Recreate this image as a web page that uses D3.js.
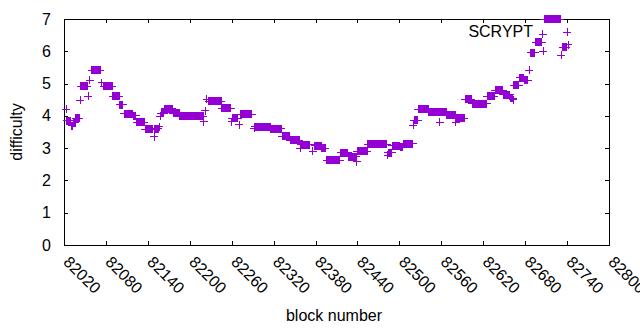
<!DOCTYPE html>
<html>
<head>
<meta charset="utf-8">
<script src="https://cdn.jsdelivr.net/npm/d3@7"></script>
<style>
  body { margin: 0; background: #fff; }
  text { font-family: "Liberation Sans", Arial, sans-serif; }
</style>
</head>
<body>
<svg id="chart" width="640" height="330"></svg>
<script>
// runs of blocks with the same difficulty (first block, last block, value)
const runStart = [82023, 82024, 82031, 82033, 82037, 82043, 82044, 82055, 82057, 82060,
  82074, 82077, 82090, 82100, 82106, 82119, 82124, 82136, 82149, 82150,
  82156, 82158, 82159, 82164, 82176, 82186, 82220, 82222, 82224, 82227,
  82246, 82260, 82261, 82271, 82273, 82292, 82293, 82304, 82316, 82332,
  82344, 82358, 82359, 82376, 82379, 82389, 82396, 82416, 82427, 82439,
  82440, 82455, 82483, 82484, 82490, 82501, 82506, 82520, 82521, 82527,
  82542, 82558, 82559, 82568, 82581, 82582, 82594, 82604, 82626, 82637,
  82649, 82659, 82663, 82664, 82672, 82679, 82686, 82688, 82695, 82705,
  82706, 82707, 82732, 82734, 82742];
const runEnd = [82023, 82030, 82032, 82036, 82042, 82043, 82053, 82055, 82057, 82072,
  82074, 82089, 82099, 82104, 82118, 82123, 82135, 82147, 82149, 82155,
  82156, 82158, 82163, 82175, 82185, 82219, 82220, 82222, 82224, 82245,
  82259, 82260, 82269, 82271, 82289, 82292, 82303, 82315, 82331, 82343,
  82357, 82358, 82372, 82376, 82388, 82394, 82415, 82426, 82438, 82439,
  82454, 82482, 82483, 82489, 82500, 82505, 82519, 82520, 82526, 82541,
  82557, 82558, 82567, 82580, 82581, 82593, 82603, 82625, 82636, 82648,
  82658, 82662, 82663, 82671, 82678, 82684, 82686, 82694, 82704, 82705,
  82706, 82730, 82732, 82739, 82742];
const difficulty = [4.20, 3.85, 3.70, 3.78, 3.92, 4.49, 4.92, 4.60, 5.11, 5.41,
  5.03, 4.91, 4.60, 4.34, 4.07, 4.00, 3.80, 3.59, 3.35, 3.60,
  3.66, 3.99, 4.08, 4.22, 4.08, 3.99, 3.82, 4.16, 4.52, 4.45,
  4.23, 3.82, 3.92, 3.72, 4.05, 3.61, 3.67, 3.64, 3.60, 3.37,
  3.25, 3.00, 3.11, 2.90, 3.08, 3.00, 2.62, 2.85, 2.73, 2.58,
  2.91, 3.12, 2.78, 2.85, 3.08, 3.03, 3.14, 3.71, 3.87, 4.20,
  4.11, 3.80, 4.11, 4.04, 3.80, 3.93, 4.52, 4.37, 4.61, 4.80,
  4.66, 4.55, 4.50, 4.95, 5.18, 5.10, 5.42, 5.95, 6.28, 6.53,
  6.00, 7.00, 5.87, 6.12, 6.21];

const xTicks = [82020, 82080, 82140, 82200, 82260, 82320, 82380, 82440, 82500,
  82560, 82620, 82680, 82740, 82800];
const yTicks = [0, 1, 2, 3, 4, 5, 6, 7];

const runs = runStart.map((s, i) => ({ s, e: runEnd[i], v: difficulty[i] }));

const svg = d3.select("#chart");
const plotL = 64, plotR = 609, plotT = 19, plotB = 245;
const purple = "#9400d3";
const fs = 16;

const x = d3.scaleLinear().domain([82020, 82800]).range([plotL, plotR]);
const y = d3.scaleLinear().domain([0, 7]).range([plotB, plotT]);

// axes, ticks pointing inward like gnuplot
const gx = svg.append("g")
    .attr("transform", `translate(0,${plotB})`)
    .call(d3.axisBottom(x).tickValues(xTicks).tickSize(-4).tickSizeOuter(0)
        .tickFormat(d3.format("d")));
gx.selectAll("text")
    .attr("y", null).attr("dy", null)
    .attr("text-anchor", "start")
    .attr("transform", "translate(-2,18) rotate(45)");

svg.append("g")
    .attr("transform", `translate(0,${plotT})`)
    .call(d3.axisTop(x).tickValues(xTicks).tickSize(-4).tickSizeOuter(0).tickFormat(""));

svg.append("g")
    .attr("transform", `translate(${plotL},0)`)
    .call(d3.axisLeft(y).tickValues(yTicks).tickSize(-4).tickSizeOuter(0).tickPadding(13)
        .tickFormat(d3.format("d")));

svg.append("g")
    .attr("transform", `translate(${plotR},0)`)
    .call(d3.axisRight(y).tickValues(yTicks).tickSize(-4).tickSizeOuter(0).tickFormat(""));

svg.selectAll(".domain").remove();
svg.selectAll(".tick line").attr("stroke", "#000").attr("shape-rendering", "crispEdges");
svg.selectAll(".tick text").attr("font-size", fs).attr("fill", "#000")
    .attr("font-family", "'Liberation Sans', Arial, sans-serif");

svg.append("rect")
    .attr("x", plotL).attr("y", plotT)
    .attr("width", plotR - plotL).attr("height", plotB - plotT)
    .attr("fill", "none").attr("stroke", "#000")
    .attr("shape-rendering", "crispEdges");

// points: a plus per block, so runs of equal blocks merge into bars
const h = 4;
const pts = svg.append("g").attr("shape-rendering", "crispEdges");
pts.selectAll(".arm")
    .data(runs)
    .enter()
    .append("line")
    .attr("class", "arm")
    .attr("stroke", purple)
    .attr("x1", d => x(d.s) - h)
    .attr("x2", d => x(d.e) + h)
    .attr("y1", d => y(d.v))
    .attr("y2", d => y(d.v));
pts.selectAll(".bar")
    .data(runs)
    .enter()
    .append("rect")
    .attr("class", "bar")
    .attr("fill", purple)
    .attr("x", d => x(d.s) - 0.5)
    .attr("width", d => x(d.e) - x(d.s) + 1)
    .attr("y", d => y(d.v) - h)
    .attr("height", 2 * h);

// key
svg.append("text")
    .attr("x", 533).attr("y", 37)
    .attr("text-anchor", "end")
    .attr("font-size", fs)
    .text("SCRYPT");
svg.append("path")
    .attr("d", `M${567 - h},32H${567 + h}M567,${32 - h}V${32 + h}`)
    .attr("stroke", purple)
    .attr("shape-rendering", "crispEdges");

// axis titles
svg.append("text")
    .attr("x", 334).attr("y", 321)
    .attr("text-anchor", "middle")
    .attr("font-size", fs)
    .text("block number");
svg.append("text")
    .attr("transform", "translate(22,132) rotate(-90)")
    .attr("text-anchor", "middle")
    .attr("font-size", fs)
    .text("difficulty");
</script>
</body>
</html>
